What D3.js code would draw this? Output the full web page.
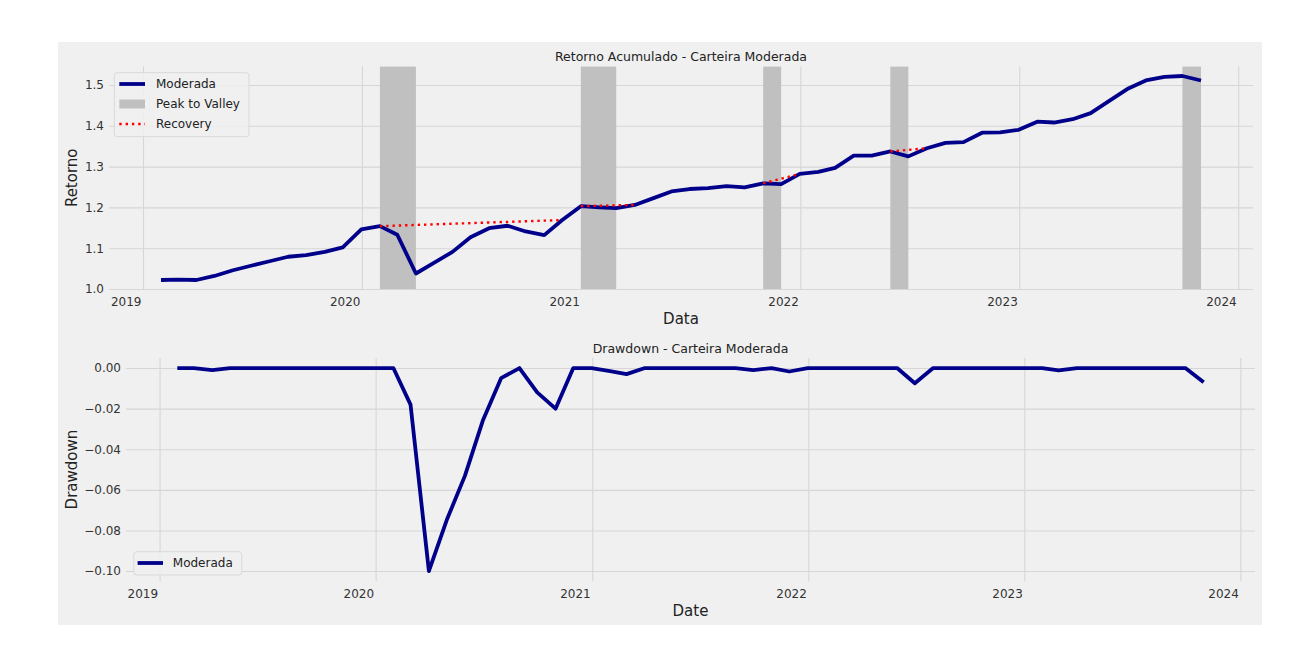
<!DOCTYPE html>
<html><head><meta charset="utf-8">
<script src="https://cdn.jsdelivr.net/npm/d3@7"></script>
<style>
body{margin:0;background:#fff;}
svg{display:block;font-family:"DejaVu Sans",sans-serif;}
</style>
</head><body>
<svg id="c" width="1316" height="668"></svg>
<script>
// ---------- DATA ----------
const dates = [
 "2019-01-31","2019-02-28","2019-03-31","2019-04-30","2019-05-31","2019-06-30","2019-07-31","2019-08-31","2019-09-30","2019-10-31","2019-11-30","2019-12-31",
 "2020-01-31","2020-02-29","2020-03-31","2020-04-30","2020-05-31","2020-06-30","2020-07-31","2020-08-31","2020-09-30","2020-10-31","2020-11-30","2020-12-31",
 "2021-01-31","2021-02-28","2021-03-31","2021-04-30","2021-05-31","2021-06-30","2021-07-31","2021-08-31","2021-09-30","2021-10-31","2021-11-30","2021-12-31",
 "2022-01-31","2022-02-28","2022-03-31","2022-04-30","2022-05-31","2022-06-30","2022-07-31","2022-08-31","2022-09-30","2022-10-31","2022-11-30","2022-12-31",
 "2023-01-31","2023-02-28","2023-03-31","2023-04-30","2023-05-31","2023-06-30","2023-07-31","2023-08-31","2023-09-30","2023-10-31"
];
const retorno = [
 1.022,1.023,1.022,1.032,1.046,1.057,1.068,1.079,1.083,1.091,1.102,1.146,
 1.154,1.133,1.038,1.064,1.091,1.127,1.149,1.155,1.141,1.132,1.169,1.203,
 1.200,1.198,1.206,1.222,1.239,1.245,1.247,1.252,1.249,1.259,1.257,1.282,
 1.287,1.297,1.327,1.327,1.337,1.325,1.345,1.358,1.360,1.383,1.384,1.390,
 1.410,1.408,1.416,1.431,1.461,1.490,1.511,1.520,1.522,1.511
];
const drawdown = [
 0,0,-0.001,0,0,0,0,0,0,0,0,0,
 0,-0.018,-0.100,-0.075,-0.053,-0.026,-0.005,0,-0.012,-0.020,0,0,
 -0.0015,-0.003,0,0,0,0,0,0,-0.001,0,-0.0017,0,
 0,0,0,0,0,-0.0075,0,0,0,0,0,0,
 0,-0.0012,0,0,0,0,0,0,0,-0.007
];
const peakToValley = [
 ["2020-01-31","2020-03-31"],
 ["2020-12-31","2021-02-28"],
 ["2021-10-31","2021-11-30"],
 ["2022-05-31","2022-06-30"],
 ["2023-09-30","2023-10-31"]
];
const recovery = [
 ["2020-01-31","2020-11-30"],
 ["2020-12-31","2021-03-31"],
 ["2021-10-31","2021-12-31"],
 ["2022-05-31","2022-07-31"]
];
const yearTicks = ["2019","2020","2021","2022","2023","2024"];
const retornoTicks = [1.0,1.1,1.2,1.3,1.4,1.5];
const drawdownTicks = [0,-0.02,-0.04,-0.06,-0.08,-0.10];
const seriesName = "Moderada";

// ---------- SETUP ----------
const parse = d3.utcParse("%Y-%m-%d");
const D = dates.map(parse);
const yearDates = yearTicks.map(y => parse(y + "-01-01"));
const ext = d3.extent(D);
const pad = (ext[1] - ext[0]) * 0.05;
const xDomain = [new Date(+ext[0] - pad), new Date(+ext[1] + pad)];

const svg = d3.select("#c");
const FONT = "DejaVu Sans";
const BG = "#f0f0f0", GRID = "#d6d6d6", LINE = "#00008b", TXT = "#333";

svg.append("rect").attr("x",58).attr("y",42).attr("width",1204).attr("height",583).attr("fill",BG);

function panel(cfg){
  const x = d3.scaleUtc().domain(xDomain).range([cfg.left, cfg.right]);
  const y = d3.scaleLinear().domain(cfg.yDomain).range([cfg.bottom, cfg.top]);
  const g = svg.append("g");
  // grid
  g.append("g").attr("transform",`translate(0,${cfg.bottom})`)
    .call(d3.axisBottom(x).tickValues(yearDates).tickSize(-(cfg.bottom-cfg.top)).tickFormat(""))
    .call(a=>{a.select(".domain").remove();a.selectAll("line").attr("stroke",GRID).attr("stroke-width",1.1);});
  g.append("g").attr("transform",`translate(${cfg.left},0)`)
    .call(d3.axisLeft(y).tickValues(cfg.yTicks).tickSize(-(cfg.right-cfg.left)).tickFormat(""))
    .call(a=>{a.select(".domain").remove();a.selectAll("line").attr("stroke",GRID).attr("stroke-width",1.1);});
  const marks = g.append("g");
  // x tick labels
  g.append("g").attr("transform",`translate(0,${cfg.bottom})`)
    .call(d3.axisBottom(x).tickValues(yearDates).tickSize(0).tickPadding(0).tickFormat(d3.utcFormat("%Y")))
    .call(a=>{a.select(".domain").remove();
      a.selectAll("text").attr("text-anchor","end").attr("dx",-2).attr("y",cfg.xLabDy).attr("dy",0)
       .attr("font-family",FONT).attr("font-size",12).attr("fill",TXT);});
  // y tick labels
  g.append("g").attr("transform",`translate(${cfg.left},0)`)
    .call(d3.axisLeft(y).tickValues(cfg.yTicks).tickSize(0).tickPadding(5).tickFormat(cfg.yFmt))
    .call(a=>{a.select(".domain").remove();
      a.selectAll("text").attr("font-family",FONT).attr("font-size",12).attr("fill",TXT);});
  // title
  g.append("text").attr("x",(cfg.left+cfg.right)/2).attr("y",cfg.titleY).attr("text-anchor","middle")
    .attr("font-family",FONT).attr("font-size",12.5).attr("fill","#222").text(cfg.title);
  // axis labels
  g.append("text").attr("x",(cfg.left+cfg.right)/2).attr("y",cfg.xTitleY).attr("text-anchor","middle")
    .attr("font-family",FONT).attr("font-size",15).attr("fill","#222").text(cfg.xTitle);
  g.append("text").attr("transform",`translate(77,${(cfg.top+cfg.bottom)/2}) rotate(-90)`).attr("text-anchor","middle")
    .attr("font-family",FONT).attr("font-size",15).attr("fill","#222").text(cfg.yTitle);
  return {x,y,g,marks};
}

// ---------- TOP PANEL ----------
const pTop = panel({left:109,right:1253,top:66.6,bottom:289,yDomain:[1.0,1.545],yTicks:retornoTicks,
  yFmt:d3.format(".1f"),title:"Retorno Acumulado - Carteira Moderada",titleY:61,xTitle:"Data",xTitleY:324,
  yTitle:"Retorno",xLabDy:17});
pTop.marks.append("g").selectAll("rect").data(peakToValley).join("rect")
  .attr("x",d=>pTop.x(parse(d[0]))).attr("width",d=>pTop.x(parse(d[1]))-pTop.x(parse(d[0])))
  .attr("y",66.6).attr("height",289-66.6).attr("fill","#c0c0c0");
const lineTop = d3.line().x((d,i)=>pTop.x(D[i])).y(d=>pTop.y(d));
pTop.marks.append("path").datum(retorno).attr("d",lineTop).attr("fill","none").attr("stroke",LINE)
  .attr("stroke-width",3.8).attr("stroke-linejoin","round");
const valAt = s => retorno[dates.indexOf(s)];
pTop.marks.append("g").selectAll("line").data(recovery).join("line")
  .attr("x1",d=>pTop.x(parse(d[0]))).attr("y1",d=>pTop.y(valAt(d[0])))
  .attr("x2",d=>pTop.x(parse(d[1]))).attr("y2",d=>pTop.y(valAt(d[1])))
  .attr("stroke","#ff0000").attr("stroke-width",2.4).attr("stroke-dasharray","2.4,3.9");

// legend top
const lg = svg.append("g");
lg.append("rect").attr("x",114.3).attr("y",72.7).attr("width",134.7).attr("height",64).attr("rx",3)
  .attr("fill",BG).attr("fill-opacity",0.85).attr("stroke","#d9d9d9");
lg.append("line").attr("x1",119.3).attr("x2",145).attr("y1",84).attr("y2",84).attr("stroke",LINE).attr("stroke-width",3.8);
lg.append("rect").attr("x",119.3).attr("y",99.5).attr("width",25.7).attr("height",9).attr("fill","#c0c0c0");
lg.append("line").attr("x1",119.3).attr("x2",145).attr("y1",124).attr("y2",124).attr("stroke","#ff0000").attr("stroke-width",2.4).attr("stroke-dasharray","2.4,3.9");
[[seriesName,84],["Peak to Valley",104],["Recovery",124]].forEach(([t,yy])=>{
  lg.append("text").attr("x",156).attr("y",yy).attr("dy","0.35em").attr("font-family",FONT).attr("font-size",12).attr("fill","#222").text(t);
});

// ---------- BOTTOM PANEL ----------
const pBot = panel({left:126,right:1255,top:357.9,bottom:581.2,yDomain:[-0.105,0.005],yTicks:drawdownTicks,
  yFmt:d3.format(".2f"),title:"Drawdown - Carteira Moderada",titleY:353,xTitle:"Date",xTitleY:616,
  yTitle:"Drawdown",xLabDy:17});
const lineBot = d3.line().x((d,i)=>pBot.x(D[i])).y(d=>pBot.y(d));
pBot.marks.append("path").datum(drawdown).attr("d",lineBot).attr("fill","none").attr("stroke",LINE)
  .attr("stroke-width",3.8).attr("stroke-linejoin","round");
const lb = svg.append("g");
lb.append("rect").attr("x",133.8).attr("y",551.7).attr("width",108).attr("height",23.3).attr("rx",3)
  .attr("fill",BG).attr("fill-opacity",0.85).attr("stroke","#d9d9d9");
lb.append("line").attr("x1",137.6).attr("x2",163).attr("y1",563).attr("y2",563).attr("stroke",LINE).attr("stroke-width",3.8);
lb.append("text").attr("x",172.8).attr("y",563).attr("dy","0.35em").attr("font-family",FONT).attr("font-size",12).attr("fill","#222").text(seriesName);
</script>
</body></html>
